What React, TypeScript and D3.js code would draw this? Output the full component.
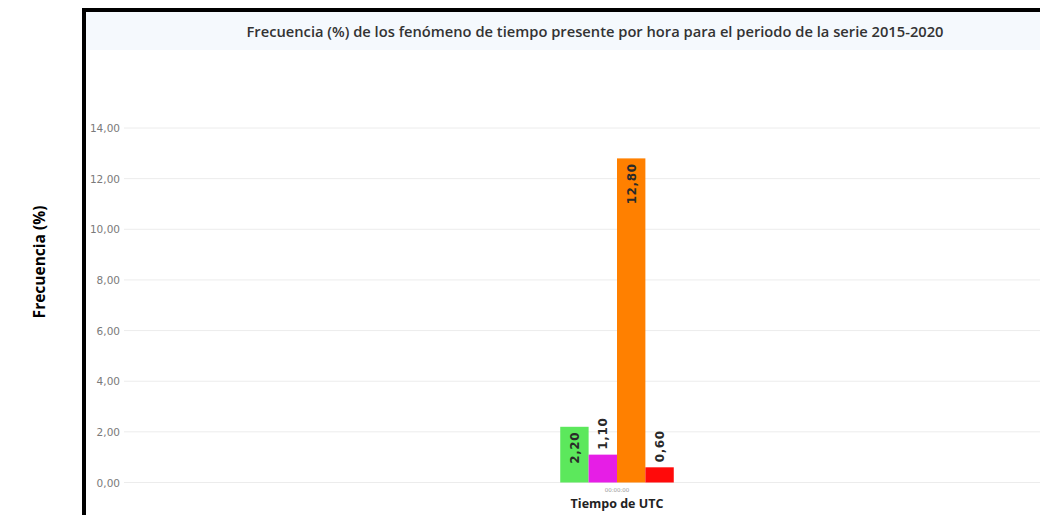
import React from "react";
import * as d3 from "d3";

const categories = ["00:00:00"];
const seriesNames = ["Fenómeno 1", "Fenómeno 2", "Fenómeno 3", "Fenómeno 4"];
const seriesValues = [2.2, 1.1, 12.8, 0.6];
const seriesColors = ["#5ce85c", "#e61ee6", "#ff8000", "#ff0a0a"];
const yTicks = [0, 2, 4, 6, 8, 10, 12, 14];
const title = "Frecuencia (%) de los fenómeno de tiempo presente por hora para el periodo de la serie 2015-2020";
const xTitle = "Tiempo de UTC";
const yTitle = "Frecuencia (%)";

const W = 1040;
const H = 515;
const plotLeft = 124;
const plotRight = 1110;
const y0 = 482.5;
const yTop = 128;

const fmt = (v: number) => v.toFixed(2).replace(".", ",");

export default function App() {
  const x = d3.scaleBand<string>().domain(categories).range([plotLeft, plotRight]).padding(0.7935);
  const inner = d3.scaleBand<string>().domain(seriesNames).range([0, x.bandwidth()]).padding(0);
  const y = d3.scaleLinear().domain([0, 14]).range([y0, yTop]);

  return (
    <svg width={W} height={H} style={{ position: "absolute", left: 0, top: 0, background: "#fff" }}>
      <rect x={0} y={0} width={W} height={H} fill="#fff" />
      <rect x={84} y={10} width={1100} height={700} fill="#fff" stroke="#000" strokeWidth={4} />
      <rect x={86} y={12} width={1000} height={38} fill="#f5f9fd" />
      <text
        x={595}
        y={37}
        textAnchor="middle"
        fontFamily="Open Sans"
        fontWeight={600}
        fontSize={14}
        textLength={697}
        lengthAdjust="spacingAndGlyphs"
        fill="#333"
      >
        {title}
      </text>
      {yTicks.map((t) => (
        <g key={t}>
          <line x1={plotLeft} x2={W} y1={y(t)} y2={y(t)} stroke="#ececec" strokeWidth={1} />
          <text x={120} y={y(t) + 4} textAnchor="end" fontFamily="DejaVu Sans" fontSize={10.5} fill="#7a7a7a">
            {fmt(t)}
          </text>
        </g>
      ))}
      {categories.map((c) => (
        <g key={c}>
          {seriesNames.map((s, i) => {
            const v = seriesValues[i];
            const bx = (x(c) ?? 0) + (inner(s) ?? 0);
            const bw = inner.bandwidth();
            const by = y(v);
            const bh = y0 - by;
            const labelLen = 38;
            const inside = bh > labelLen + 10;
            const ly = inside ? by + 5 : by - 5;
            return (
              <g key={s}>
                <rect x={bx} y={by} width={bw} height={bh} fill={seriesColors[i]} />
                <text
                  transform={`translate(${bx + bw / 2 + 4.5},${ly}) rotate(-90)`}
                  textAnchor={inside ? "end" : "start"}
                  fontFamily="DejaVu Sans"
                  fontWeight="bold"
                  fontSize={12}
                  letterSpacing={0.6}
                  fill="#2a2a2a"
                >
                  {fmt(v)}
                </text>
              </g>
            );
          })}
          <text
            x={(x(c) ?? 0) + x.bandwidth() / 2}
            y={492}
            textAnchor="middle"
            fontFamily="DejaVu Sans"
            fontSize={5.5}
            fill="#999"
          >
            {c}
          </text>
        </g>
      ))}
      <text x={617} y={508} textAnchor="middle" fontFamily="Open Sans" fontWeight="bold" fontSize={12.5} fill="#222">
        {xTitle}
      </text>
      <text
        transform={`translate(45,262) rotate(-90)`}
        textAnchor="middle"
        fontFamily="Open Sans"
        fontWeight="bold"
        fontSize={15.5}
        fill="#000"
      >
        {yTitle}
      </text>
    </svg>
  );
}
